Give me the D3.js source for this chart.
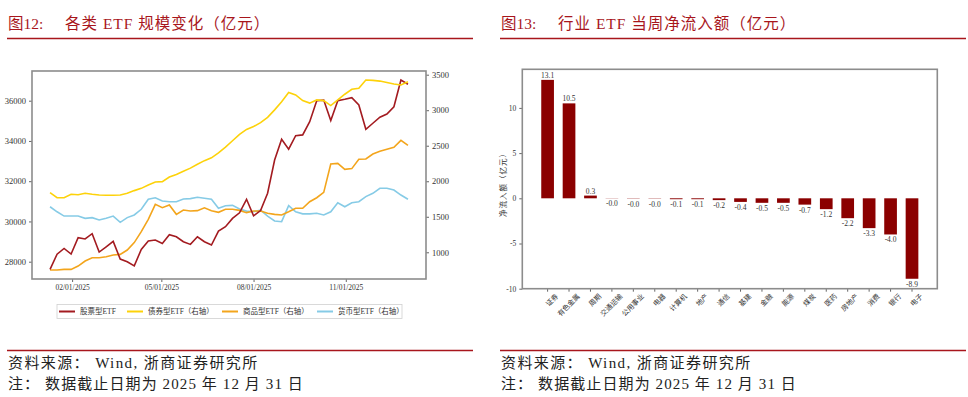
<!DOCTYPE html>
<meta charset="utf-8">
<style>
body { margin: 0; background: #fff; }
text { font-family: "Liberation Serif", "Noto Sans CJK SC", serif; }
.frame { fill: none; stroke: #8c8c8c; stroke-width: 1.6px; }
.axis path { display: none; }
.axis line { stroke: #666; }
.axis text { fill: #333; }
.line { fill: none; stroke-width: 1.6px; }
</style>
<svg width="968" height="397"></svg>
<script src="https://cdn.jsdelivr.net/npm/d3@7"></script>
<script>

// ---- figure 12 data: weekly ETF size (亿元)
var startDate = new Date(2025, 0, 10);
var stockEtf = [27620, 28370, 28660, 28380, 29190, 29130, 29390, 28480, 28740, 29010,
  28130, 28000, 27790, 28610, 29030, 29080, 28910, 29340, 29240, 28990,
  28860, 29240, 28990, 28830, 29520, 29740, 30150, 30430, 31100, 30280,
  30540, 31400, 33050, 34080, 33590, 34260, 34300, 34960, 36000, 36030,
  35010, 36000, 36070, 36150, 35790, 34580, 34880, 35180, 35340, 35700,
  37030, 36820];
var bondEtf = [1839, 1768, 1768, 1816, 1811, 1830, 1816, 1806, 1802, 1802,
  1806, 1830, 1868, 1900, 1947, 1989, 1995, 2060, 2095, 2140,
  2185, 2240, 2290, 2330, 2400, 2480, 2570, 2660, 2730, 2770,
  2825, 2900, 3005, 3120, 3250, 3215, 3135, 3100, 3145, 3135,
  3065, 3145, 3225, 3295, 3310, 3425, 3420, 3410, 3390, 3370,
  3355, 3400];
var commodityEtf = [750, 750, 759, 759, 806, 877, 923, 923, 937, 961,
  971, 1032, 1136, 1290, 1464, 1675, 1627, 1665, 1534, 1595,
  1581, 1586, 1627, 1586, 1563, 1605, 1605, 1590, 1558, 1581,
  1580, 1549, 1534, 1525, 1570, 1619, 1619, 1712, 1768, 1844,
  2243, 2252, 2168, 2178, 2309, 2314, 2384, 2421, 2450, 2478,
  2576, 2506];
var moneyEtf = [1641, 1570, 1510, 1510, 1510, 1478, 1488, 1454, 1478, 1510,
  1422, 1488, 1525, 1605, 1746, 1768, 1722, 1712, 1712, 1750,
  1755, 1774, 1760, 1746, 1619, 1656, 1660, 1610, 1580, 1570,
  1595, 1510, 1441, 1431, 1656, 1570, 1541, 1541, 1549, 1525,
  1570, 1698, 1641, 1698, 1712, 1784, 1830, 1901, 1901, 1877,
  1806, 1746];
var leftTicks = [28000, 30000, 32000, 34000, 36000];
var rightTicks = [1000, 1500, 2000, 2500, 3000, 3500];
var dateTicks = [new Date(2025, 1, 1), new Date(2025, 4, 1), new Date(2025, 7, 1), new Date(2025, 10, 1)];

// ---- figure 13 data: weekly net inflow by sector (亿元)
var sectors = ["证券", "有色金属", "周期", "交通运输", "公用事业", "电器", "计算机", "地产", "通信",
  "基建", "金融", "能源", "煤炭", "医药", "房地产", "消费", "银行", "电子"];
var inflow = [13.1, 10.5, 0.3, -0.02, -0.03, -0.03, -0.1, -0.1, -0.2,
  -0.4, -0.5, -0.5, -0.7, -1.2, -2.2, -3.3, -4.0, -8.9];
var inflowTicks = [-10, -5, 0, 5, 10];

var titleRed = "#a8161c";
var svg = d3.select("svg");

// plain hyphen minus, and keep "-0.0" for small negatives
function fmt1(d) { return (d < 0 ? "-" : "") + Math.abs(d).toFixed(1); }
function fmt0(d) { return (d < 0 ? "-" : "") + Math.abs(d); }

// ---------- shared header / footer ----------
function header(x0, x1, num, title) {
  svg.append("text").attr("x", x0 + 1).attr("y", 29).attr("fill", titleRed)
    .style("font-size", "15.5px").text(num);
  svg.append("text").attr("x", x0 + 58).attr("y", 29).attr("fill", titleRed)
    .style("font-size", "15.5px").style("letter-spacing", "1px").text(title);
  svg.append("line").attr("x1", x0).attr("x2", x1).attr("y1", 38.5).attr("y2", 38.5)
    .attr("stroke", titleRed).attr("stroke-width", 1.3);
  svg.append("line").attr("x1", x0).attr("x2", x1).attr("y1", 350.5).attr("y2", 350.5)
    .attr("stroke", titleRed).attr("stroke-width", 1.3);
  svg.append("text").attr("x", x0 + 1).attr("y", 368).attr("fill", "#222")
    .style("font-size", "15px").style("letter-spacing", "1.4px")
    .text("资料来源： Wind, 浙商证券研究所");
  svg.append("text").attr("x", x0 + 1).attr("y", 389).attr("fill", "#222")
    .style("font-size", "15px").style("letter-spacing", "1.1px")
    .text("注： 数据截止日期为 2025 年 12 月 31 日");
}
header(7, 473, "图12:", "各类 ETF 规模变化（亿元）");
header(500, 966, "图13:", "行业 ETF 当周净流入额（亿元）");

// ---------- figure 12 ----------
var f1 = {left: 32, top: 71, right: 426, bottom: 279};
var dates = stockEtf.map(function(d, i) { return d3.timeWeek.offset(startDate, i); });

var x = d3.scaleTime()
    .domain([new Date(2024, 11, 23), new Date(2026, 0, 20)])
    .range([f1.left, f1.right]);
var yL = d3.scaleLinear().domain([27140, 37476]).range([f1.bottom, f1.top]);
var yR = d3.scaleLinear().domain([624, 3552]).range([f1.bottom, f1.top]);

svg.append("g").attr("class", "axis")
    .attr("transform", "translate(" + f1.left + ",0)")
    .call(d3.axisLeft(yL).tickValues(leftTicks).tickSize(3).tickFormat(d3.format("d")))
    .selectAll("text").style("font-size", "8.5px");
svg.append("g").attr("class", "axis")
    .attr("transform", "translate(" + f1.right + ",0)")
    .call(d3.axisRight(yR).tickValues(rightTicks).tickSize(3).tickFormat(d3.format("d")))
    .selectAll("text").style("font-size", "8.5px");
svg.append("g").attr("class", "axis")
    .attr("transform", "translate(0," + f1.bottom + ")")
    .call(d3.axisBottom(x).tickValues(dateTicks).tickSize(3).tickFormat(d3.timeFormat("%m/%d/%Y")))
    .selectAll("text").style("font-size", "7.5px");

var series = [
  {name: "股票型ETF", values: stockEtf, color: "#a31b20", y: yL},
  {name: "债券型ETF（右轴）", values: bondEtf, color: "#fdd20a", y: yR},
  {name: "商品型ETF（右轴）", values: commodityEtf, color: "#f3a51c", y: yR},
  {name: "货币型ETF（右轴）", values: moneyEtf, color: "#86cbe6", y: yR}
];

// draw in back-to-front order: money, commodity, stock, bond
[3, 2, 0, 1].forEach(function(k) {
  var s = series[k];
  var line = d3.line()
      .x(function(d, i) { return x(dates[i]); })
      .y(function(d) { return s.y(d); });
  svg.append("path").datum(s.values)
      .attr("class", "line")
      .attr("d", line)
      .style("stroke", s.color);
});

svg.append("rect").attr("class", "frame")
    .attr("x", f1.left).attr("y", f1.top)
    .attr("width", f1.right - f1.left).attr("height", f1.bottom - f1.top);

// legend
var legendX = [59, 127, 222, 317];
svg.append("rect").attr("x", 57).attr("y", 304.5).attr("width", 345).attr("height", 14)
    .attr("fill", "#fff").attr("stroke", "#d0d0d0").attr("stroke-width", 0.8);
var legend = svg.selectAll(".legend")
    .data(series)
    .enter().append("g")
      .attr("class", "legend")
      .attr("transform", function(d, i) { return "translate(" + legendX[i] + ",311.5)"; });
legend.append("line").attr("x1", 0).attr("x2", 16)
    .attr("stroke", function(d) { return d.color; }).attr("stroke-width", 2);
legend.append("text").attr("x", 21).attr("dy", "0.35em")
    .style("font-size", "7.5px").attr("fill", "#333")
    .text(function(d) { return d.name; });

// ---------- figure 13 ----------
var f2 = {left: 522.3, top: 69.3, right: 937.3, bottom: 288.7};
var xb = d3.scaleBand().domain(sectors).range([f2.left, f2.right])
    .paddingInner(0.408).paddingOuter(0.884);
var yb = d3.scaleLinear().domain([-10, 14.27]).range([f2.bottom, f2.top]);

svg.append("g").attr("class", "axis")
    .attr("transform", "translate(" + f2.left + ",0)")
    .call(d3.axisLeft(yb).tickValues(inflowTicks).tickSize(3).tickFormat(fmt0))
    .selectAll("text").style("font-size", "7.5px");

var xAxis = svg.append("g").attr("class", "axis")
    .attr("transform", "translate(0," + f2.bottom + ")")
    .call(d3.axisBottom(xb).tickSize(3));
xAxis.selectAll("text")
    .style("font-size", "7px")
    .style("text-anchor", "end")
    .attr("dx", "0.3em").attr("dy", "1.1em")
    .attr("transform", "rotate(-45)");

svg.append("g").selectAll("rect")
    .data(inflow)
    .enter().append("rect")
      .attr("x", function(d, i) { return xb(sectors[i]); })
      .attr("width", xb.bandwidth())
      .attr("y", function(d) { return yb(Math.max(0, d)); })
      .attr("height", function(d) { return Math.abs(yb(d) - yb(0)); })
      .attr("fill", "#8b0000");

svg.append("g").selectAll("text")
    .data(inflow)
    .enter().append("text")
      .attr("x", function(d, i) { return xb(sectors[i]) + xb.bandwidth() / 2; })
      .attr("y", function(d) { return d > 0 ? yb(d) - 2 : yb(d) + 8; })
      .attr("text-anchor", "middle")
      .style("font-size", "7.5px").attr("fill", "#333")
      .text(fmt1);

svg.append("rect").attr("class", "frame")
    .attr("x", f2.left).attr("y", f2.top)
    .attr("width", f2.right - f2.left).attr("height", f2.bottom - f2.top);

svg.append("text")
    .attr("transform", "translate(506,183) rotate(-90)")
    .attr("text-anchor", "middle")
    .style("font-size", "7.5px").style("letter-spacing", "1px").attr("fill", "#333")
    .text("净流入额（亿元）");

</script>
